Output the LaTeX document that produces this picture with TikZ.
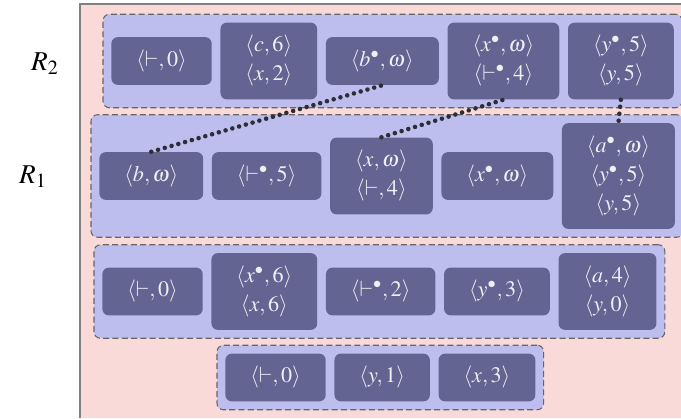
\documentclass[tikz,border=0pt]{standalone}
\usepackage{mathptmx}
\usetikzlibrary{positioning,fit,backgrounds}
\definecolor{bgpink}{RGB}{250,217,217}
\definecolor{rowfill}{RGB}{190,190,238}
\definecolor{cellfill}{RGB}{100,100,146}
\definecolor{celltext}{RGB}{238,238,245}
\definecolor{dotline}{RGB}{45,45,55}

\begin{document}
\begin{tikzpicture}[
  font=\fontsize{12.6}{16.5}\selectfont,
  node distance=0.16cm,
  cell/.style={fill=cellfill, text=celltext, rounded corners=0.13cm, align=center,
    inner xsep=0.5cm, inner ysep=7.35pt},
  row/.style={draw=black!60, dash pattern=on 3.4pt off 1.9pt, line width=0.6pt,
    fill=rowfill, rounded corners=0.13cm, inner sep=0.16cm},
  link/.style={dotline, line width=2.6pt, line cap=round, dash pattern=on 0pt off 4pt},
  side/.style={anchor=base west, font=\fontsize{15.5}{18}\selectfont}
]
\useasboundingbox (0,0) rectangle (13.62,8.36);

\node[side] (lab2) at (0.50,6.96) {$R_2$};
\node[side] (lab1) at (0.26,4.70) {$R_1$};

% R2
\node[cell, anchor=west] (r2a) at (2.22,7.14) {$\langle\vdash,0\rangle$};
\node[cell, right=of r2a] (r2b) {$\langle c,6\rangle$\\$\langle x,2\rangle$};
\node[cell, right=of r2b] (r2c) {$\langle b^\bullet,\omega\rangle$};
\node[cell, right=of r2c] (r2d) {$\langle x^\bullet,\omega\rangle$\\$\langle\vdash^\bullet,4\rangle$};
\node[cell, right=of r2d] (r2e) {$\langle y^\bullet,5\rangle$\\$\langle y,5\rangle$};

% R1
\node[cell, anchor=west] (r1a) at (1.98,4.84) {$\langle b,\omega\rangle$};
\node[cell, right=of r1a] (r1b) {$\langle\vdash^\bullet,5\rangle$};
\node[cell, right=of r1b] (r1c) {$\langle x,\omega\rangle$\\$\langle\vdash,4\rangle$};
\node[cell, right=of r1c] (r1d) {$\langle x^\bullet,\omega\rangle$};
\node[cell, right=of r1d] (r1e) {$\langle a^\bullet,\omega\rangle$\\$\langle y^\bullet,5\rangle$\\$\langle y,5\rangle$};

% third row
\node[cell, anchor=west] (r3a) at (2.04,2.53) {$\langle\vdash,0\rangle$};
\node[cell, right=of r3a] (r3b) {$\langle x^\bullet,6\rangle$\\$\langle x,6\rangle$};
\node[cell, right=of r3b] (r3c) {$\langle\vdash^\bullet,2\rangle$};
\node[cell, right=of r3c] (r3d) {$\langle y^\bullet,3\rangle$};
\node[cell, right=of r3d] (r3e) {$\langle a,4\rangle$\\$\langle y,0\rangle$};

% bottom row
\node[cell, anchor=west] (r4a) at (4.50,0.81) {$\langle\vdash,0\rangle$};
\node[cell, right=of r4a] (r4b) {$\langle y,1\rangle$};
\node[cell, right=of r4b] (r4c) {$\langle x,3\rangle$};

\begin{scope}[on background layer]
\fill[bgpink] (1.60,0) rectangle (13.62,8.28);
\draw[black!50, line width=0.8pt] (1.60,0) |- (13.62,8.28);
\node[row, fit=(r2a)(r2e)] (row2) {};
\node[row, fit=(r1a)(r1e)] (row1) {};
\node[row, fit=(r3a)(r3e)] (row3) {};
\node[row, fit=(r4a)(r4c)] (row4) {};
\end{scope}

\draw[link] (r1a.north) -- (r2c.south);
\draw[link] (r1c.north) -- (r2d.south);
\draw[link] (r2e.south) -- (r1e.north);
\end{tikzpicture}
\end{document}
